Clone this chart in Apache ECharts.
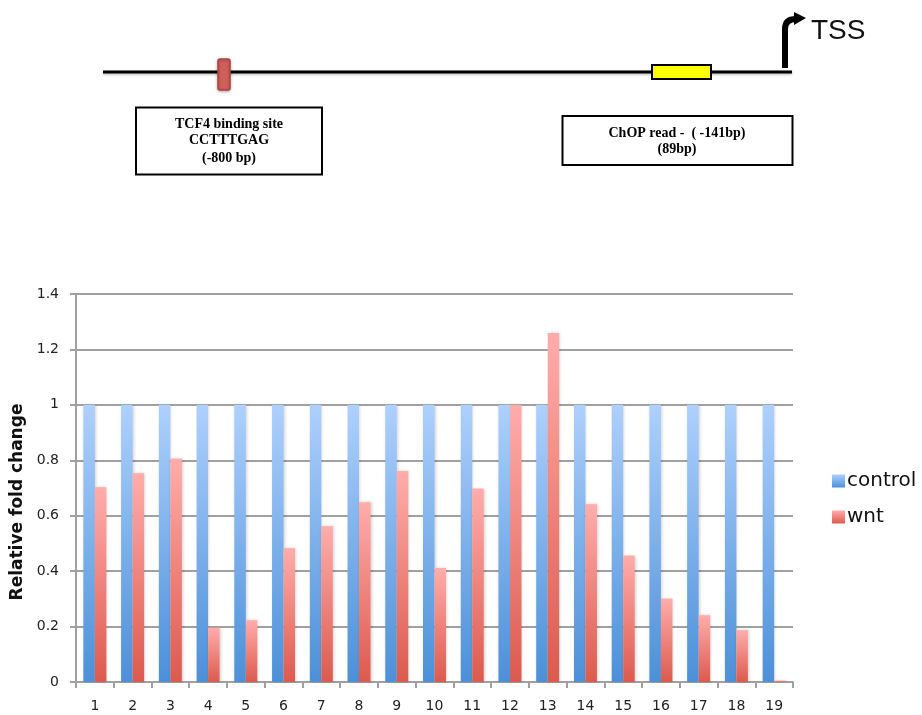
<!DOCTYPE html>
<html>
<head>
<meta charset="utf-8">
<script src="https://cdn.jsdelivr.net/npm/echarts@6/dist/echarts.min.js"></script>
<style>html,body{margin:0;padding:0;background:#fff}#c{width:922px;height:715px}</style>
</head>
<body>
<div id="c"></div>
<script>
const categories = ['1','2','3','4','5','6','7','8','9','10','11','12','13','14','15','16','17','18','19'];
const controlValues = [1,1,1,1,1,1,1,1,1,1,1,1,1,1,1,1,1,1,1];
const wntValues = [0.703,0.753,0.806,0.196,0.223,0.483,0.562,0.649,0.761,0.411,0.698,1.0,1.259,0.641,0.456,0.301,0.241,0.187,0.005];
const yTicks = [0,0.2,0.4,0.6,0.8,1,1.2,1.4];

const chart = echarts.init(document.getElementById('c'));
const blueGrad = new echarts.graphic.LinearGradient(0,0,0,1,[{offset:0,color:'#aed0fd'},{offset:1,color:'#4c90d8'}]);
const redGrad = new echarts.graphic.LinearGradient(0,0,0,1,[{offset:0,color:'#ffadab'},{offset:1,color:'#dc5a4e'}]);
const serif = '"Liberation Serif", "DejaVu Serif", serif';
const sans = '"DejaVu Sans", Verdana, sans-serif';

chart.setOption({
  animation:false,
  backgroundColor:'#fff',
  grid:{left:76,right:129,top:294,bottom:33},
  legend:{
    orient:'vertical', left:827, top:466, itemWidth:13, itemHeight:13, itemGap:16,
    icon:'rect',
    textStyle:{fontSize:20,color:'#111',fontFamily:sans,padding:[0,0,0,-3]},
    data:[{name:'control',itemStyle:{color:blueGrad}},{name:'wnt',itemStyle:{color:redGrad}}]
  },
  xAxis:{
    type:'category', data:categories,
    axisLine:{lineStyle:{color:'#a0a0a0',width:2}},
    axisTick:{show:true,length:6,lineStyle:{color:'#a0a0a0',width:2}},
    axisLabel:{fontSize:14,color:'#222',margin:17,fontFamily:sans}
  },
  yAxis:{
    type:'value', min:yTicks[0], max:yTicks[yTicks.length-1], interval:0.2,
    name:'Relative fold change', nameLocation:'middle', nameGap:45,
    nameTextStyle:{fontSize:17,fontWeight:'bold',color:'#111',fontFamily:sans,padding:[0,28,0,0]},
    axisLine:{show:true,lineStyle:{color:'#a0a0a0',width:2}},
    axisTick:{show:true,length:6,lineStyle:{color:'#a0a0a0',width:2}},
    splitLine:{lineStyle:{color:'#a0a0a0',width:2}},
    axisLabel:{fontSize:14,color:'#222',margin:17,fontFamily:sans}
  },
  series:[
    {name:'control',type:'bar',data:controlValues,barWidth:11.5,barGap:'0%',
     itemStyle:{color:blueGrad,shadowColor:'rgba(0,0,0,0.18)',shadowBlur:3,shadowOffsetX:1}},
    {name:'wnt',type:'bar',data:wntValues,barWidth:11.5,barGap:'0%',
     itemStyle:{color:redGrad,shadowColor:'rgba(0,0,0,0.18)',shadowBlur:3,shadowOffsetX:1}}
  ],
  graphic:[
    {type:'line',shape:{x1:103,y1:72,x2:792,y2:72},style:{stroke:'#000',lineWidth:3,shadowColor:'rgba(0,0,0,0.3)',shadowBlur:3,shadowOffsetY:1}},
    {type:'rect',shape:{x:218,y:59,width:12,height:31,r:2},style:{fill:'#cf5f5a',stroke:'#b0433f',lineWidth:1.5,shadowColor:'rgba(0,0,0,0.3)',shadowBlur:3,shadowOffsetY:1}},
    {type:'rect',shape:{x:652,y:65,width:59,height:14},style:{fill:'#ffff00',stroke:'#000',lineWidth:2}},
    {type:'line',shape:{x1:785,y1:68,x2:785,y2:28},style:{stroke:'#000',lineWidth:6}},
    {type:'bezierCurve',shape:{x1:785,y1:29,x2:796,y2:19,cpx1:785,cpy1:19},style:{stroke:'#000',lineWidth:6,fill:null}},
    {type:'polygon',shape:{points:[[794,12],[806,18],[794,25]]},style:{fill:'#000'}},
    {type:'text',x:811,y:31,style:{text:'TSS',fontSize:28,fill:'#111',fontFamily:'"Liberation Sans", Arial, sans-serif',textVerticalAlign:'middle'}},
    {type:'rect',shape:{x:136,y:107.5,width:186,height:67},style:{fill:'#fff',stroke:'#000',lineWidth:2}},
    {type:'text',x:229,y:124,style:{text:'TCF4 binding site',fontSize:14,fontWeight:'bold',fill:'#000',fontFamily:serif,textAlign:'center',textVerticalAlign:'middle'}},
    {type:'text',x:229,y:140,style:{text:'CCTTTGAG',fontSize:14,fontWeight:'bold',fill:'#000',fontFamily:serif,textAlign:'center',textVerticalAlign:'middle'}},
    {type:'text',x:229,y:158,style:{text:'(-800 bp)',fontSize:14,fontWeight:'bold',fill:'#000',fontFamily:serif,textAlign:'center',textVerticalAlign:'middle'}},
    {type:'rect',shape:{x:562.5,y:116,width:230,height:49},style:{fill:'#fff',stroke:'#000',lineWidth:2}},
    {type:'text',x:677,y:133,style:{text:'ChOP read -  ( -141bp)',fontSize:14,fontWeight:'bold',fill:'#000',fontFamily:serif,textAlign:'center',textVerticalAlign:'middle'}},
    {type:'text',x:677,y:149,style:{text:'(89bp)',fontSize:14,fontWeight:'bold',fill:'#000',fontFamily:serif,textAlign:'center',textVerticalAlign:'middle'}}
  ]
});
</script>
</body>
</html>
